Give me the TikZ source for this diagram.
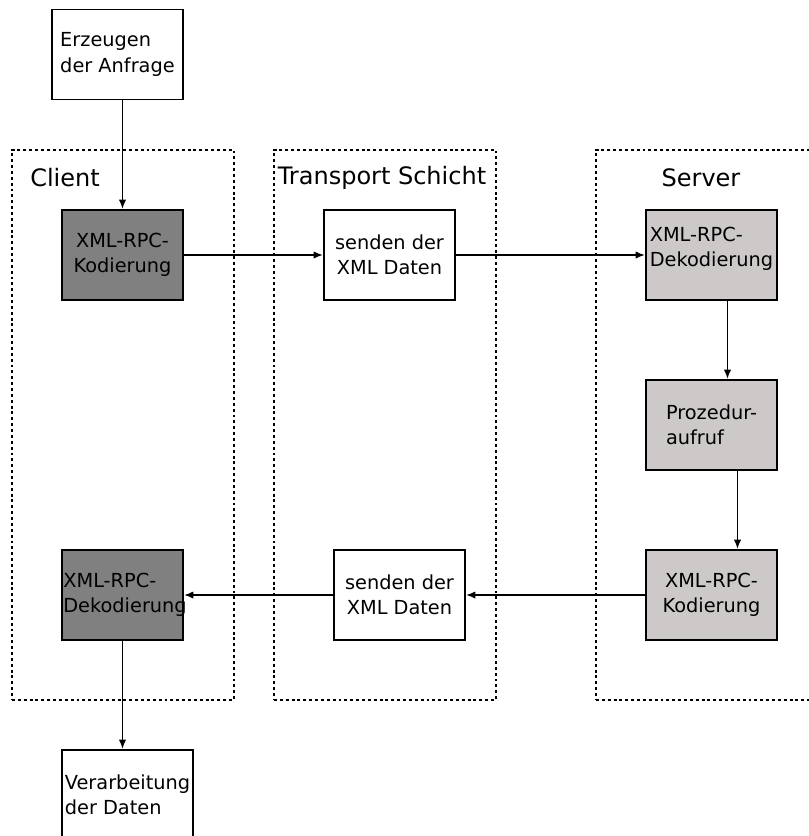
\documentclass[tikz,border=0pt]{standalone}
\usepackage{fontspec}
\setmainfont{DejaVu Sans}
\usepackage{xcolor}
\usetikzlibrary{arrows.meta,positioning}
\definecolor{clientgray}{HTML}{808080}
\definecolor{servergray}{HTML}{CDC9C9}
\tikzset{
  >={Latex[length=7pt,width=5.5pt]},
  flow/.style={->,line width=1.3pt,draw=black},
  box/.style={draw=black,line width=1.4pt,minimum width=98.25pt,minimum height=67.5pt,
              inner sep=2pt,font=\fontsize{14.5}{19}\selectfont,fill=white},
  clientbox/.style={box,fill=clientgray,minimum width=90.75pt},
  serverbox/.style={box,fill=servergray},
  layer/.style={draw=black,line width=1.1pt,dash pattern=on 2.2pt off 2.2pt,
                minimum width=166.5pt,minimum height=412.5pt},
  layerlabel/.style={font=\fontsize{18}{20}\selectfont,inner sep=0pt}
}
\begin{document}
\begin{tikzpicture}[x=0.75pt,y=-0.75pt]
  \useasboundingbox (0,0) rectangle (808,836);
  % Schichten
  \node[layer] (client) at (123,425) {};
  \node[layer] (transport) at (385,425) {};
  \node[layer] (server) at (707,425) {};
  \node[layerlabel] (clientlbl) at (65,178) {Client};
  \node[layerlabel] (transportlbl) at (382,178) {Transport Schicht};
  \node[layerlabel] (serverlbl) at (701,178) {Server};
  % Bausteine
  \node[box,align=left] (anfrage) at (117.5,54.5) {Erzeugen\\der Anfrage};
  \node[clientbox,align=center] (kodC) at (122.5,255) {XML-RPC-\\Kodierung};
  \node[box,align=center] (sendenA) at (389.5,255) {senden der\\XML Daten};
  \node[serverbox,align=left,text depth=12pt] (dekS) at (711.5,255) {XML-RPC-\\Dekodierung};
  \node[serverbox,align=left] (proz) at (711.5,425) {Prozedur-\\aufruf};
  \node[serverbox,align=center] (kodS) at (711.5,595) {XML-RPC-\\Kodierung};
  \node[box,align=center] (sendenB) at (399.5,595) {senden der\\XML Daten};
  \node[clientbox,align=left,text width=88.75pt,inner xsep=1pt] (dekC) at (122.5,595) {XML-RPC-\\Dekodierung};
  \node[box,align=left] (verarb) at (127.5,795) {Verarbeitung\\der Daten};
  % Verbindungen
  \draw[flow] (kodC.north |- anfrage.south) -- (kodC.north);
  \draw[flow] (kodC.east) -- (sendenA.west);
  \draw[flow] (sendenA.east) -- (dekS.west);
  \draw[flow] ([xshift=12pt]dekS.south) -- ([xshift=12pt]proz.north);
  \draw[flow] ([xshift=19.5pt]proz.south) -- ([xshift=19.5pt]kodS.north);
  \draw[flow] (kodS.west) -- (sendenB.east);
  \draw[flow] (sendenB.west) -- (dekC.east);
  \draw[flow] (dekC.south) -- (dekC.south |- verarb.north);
\end{tikzpicture}
\end{document}
